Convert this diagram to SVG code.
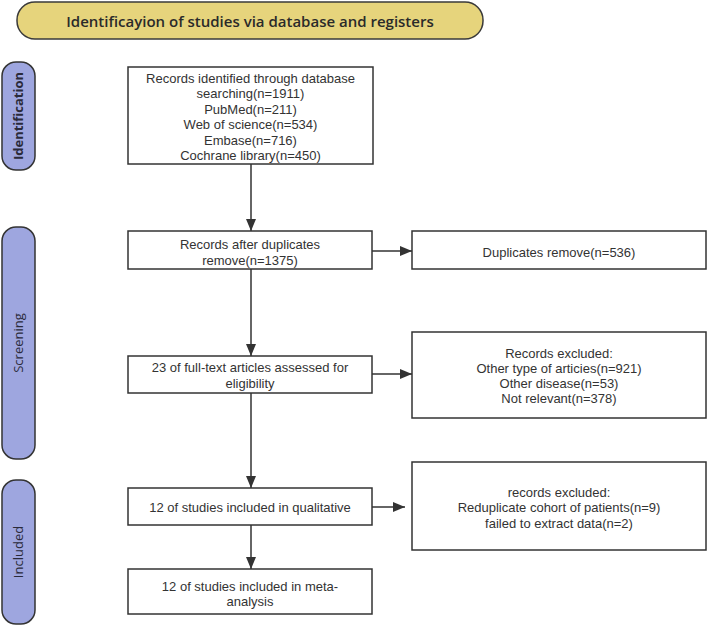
<svg xmlns="http://www.w3.org/2000/svg" width="708" height="626" viewBox="0 0 708 626">
<style>
.box{fill:#ffffff;stroke:#333333;stroke-width:1.5}
.side{fill:#9ea6df;stroke:#333333;stroke-width:1.5}
.t{font-family:"Liberation Sans",Arial,sans-serif;font-size:13px;fill:#333333;text-anchor:middle}
.st{font-family:"Open Sans","Noto Sans",sans-serif;font-size:13px;fill:#2a2a3a;text-anchor:middle}
.ln{stroke:#333333;stroke-width:1.5;fill:none;marker-end:url(#ah)}
</style>
<defs>
<marker id="ah" markerWidth="12" markerHeight="10" refX="12" refY="5" orient="auto" markerUnits="userSpaceOnUse">
<path d="M0,0 L12,5 L0,10 Z" fill="#333333"/>
</marker>
</defs>
<rect width="708" height="626" fill="#ffffff"/>
<g id="title">
<rect x="17" y="2" width="466" height="37" rx="18" ry="18" fill="#e6d47c" stroke="#3a3a3a" stroke-width="1.5"/>
<text x="250" y="27" font-family="Open Sans, Noto Sans, sans-serif" font-size="15" font-weight="600" fill="#2a2a2a" text-anchor="middle">Identificayion of studies via database and registers</text>
</g>
<g id="label-identification">
<rect class="side" x="2" y="62" width="33" height="108" rx="14" ry="14"/>
<text class="st" font-weight="700" transform="translate(23,116) rotate(-90)">Identification</text>
</g>
<g id="label-screening">
<rect class="side" x="2" y="227" width="33" height="232" rx="14" ry="14"/>
<text class="st" transform="translate(23,343) rotate(-90)">Screening</text>
</g>
<g id="label-included">
<rect class="side" x="2" y="480" width="33" height="144" rx="14" ry="14"/>
<text class="st" transform="translate(23,552) rotate(-90)">Included</text>
</g>
<g id="n-identified">
<rect class="box" x="128" y="67" width="245" height="97"/>
<text class="t" x="250.5" y="82.5">Records identified through database</text>
<text class="t" x="250.5" y="98">searching(n=1911)</text>
<text class="t" x="250.5" y="113.5">PubMed(n=211)</text>
<text class="t" x="250.5" y="129">Web of science(n=534)</text>
<text class="t" x="250.5" y="144.5">Embase(n=716)</text>
<text class="t" x="250.5" y="160">Cochrane library(n=450)</text>
</g>
<g id="n-after-dup">
<rect class="box" x="128" y="231" width="244" height="38"/>
<text class="t" x="250" y="248.5">Records after duplicates</text>
<text class="t" x="250" y="264.5">remove(n=1375)</text>
</g>
<g id="n-dup-removed">
<rect class="box" x="412" y="231" width="294" height="38"/>
<text class="t" x="559" y="256.5">Duplicates remove(n=536)</text>
</g>
<g id="n-fulltext">
<rect class="box" x="128" y="356" width="244" height="37"/>
<text class="t" x="250" y="371.5">23 of full-text articles assessed for</text>
<text class="t" x="250" y="387.5">eligibility</text>
</g>
<g id="n-excluded1">
<rect class="box" x="412" y="332" width="294" height="86"/>
<text class="t" x="559" y="357.5">Records excluded:</text>
<text class="t" x="559" y="372.5">Other type of articies(n=921)</text>
<text class="t" x="559" y="387.5">Other disease(n=53)</text>
<text class="t" x="559" y="402.5">Not relevant(n=378)</text>
</g>
<g id="n-qualitative">
<rect class="box" x="128" y="488" width="244" height="37"/>
<text class="t" x="250" y="511.5">12 of studies included in qualitative</text>
</g>
<g id="n-excluded2">
<rect class="box" x="412" y="462" width="294" height="88"/>
<text class="t" x="559" y="496.5">records excluded:</text>
<text class="t" x="559" y="512">Reduplicate cohort of patients(n=9)</text>
<text class="t" x="559" y="527.5">failed to extract data(n=2)</text>
</g>
<g id="n-meta">
<rect class="box" x="128" y="569" width="244" height="45"/>
<text class="t" x="250" y="590.5">12 of studies included in meta-</text>
<text class="t" x="250" y="606">analysis</text>
</g>
<g id="connectors">
<line class="ln" x1="251" y1="164" x2="251" y2="231"/>
<line class="ln" x1="251" y1="269" x2="251" y2="356"/>
<line class="ln" x1="372" y1="251" x2="412" y2="251"/>
<line class="ln" x1="372" y1="374" x2="412" y2="374"/>
<line class="ln" x1="251" y1="393" x2="251" y2="488"/>
<line class="ln" x1="372" y1="507" x2="405" y2="507"/>
<line class="ln" x1="251" y1="525" x2="251" y2="569"/>
</g>
</svg>
